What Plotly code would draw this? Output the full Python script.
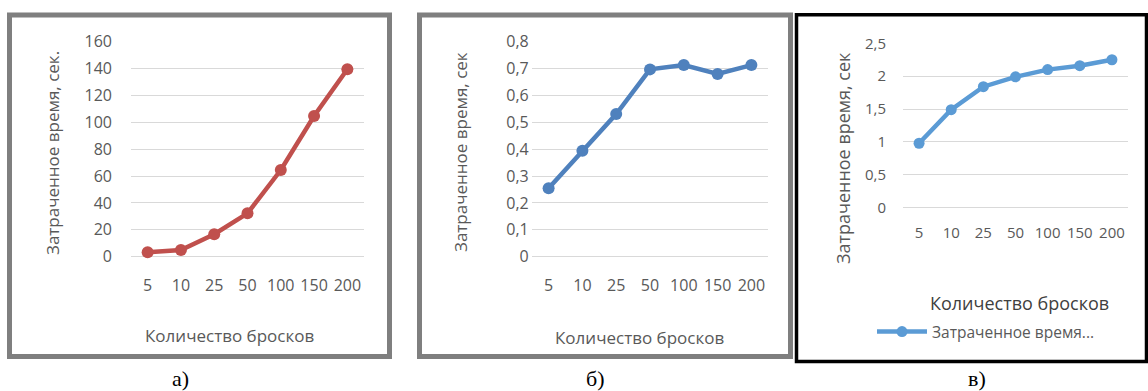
import plotly.graph_objects as go

# Throw counts (categorical x axis shared by all three charts)
throws = ["5", "10", "25", "50", "100", "150", "200"]

# Elapsed time, seconds
time_a = [3.3, 5.0, 16.7, 32.3, 64.5, 104.7, 139.5]
time_b = [0.255, 0.394, 0.531, 0.697, 0.713, 0.680, 0.713]
time_c = [0.98, 1.49, 1.84, 1.99, 2.10, 2.16, 2.25]

# Y tick values and labels (decimal comma)
ticks_a = [0, 20, 40, 60, 80, 100, 120, 140, 160]
labels_a = ["0", "20", "40", "60", "80", "100", "120", "140", "160"]
ticks_b = [0, 0.1, 0.2, 0.3, 0.4, 0.5, 0.6, 0.7, 0.8]
labels_b = ["0", "0,1", "0,2", "0,3", "0,4", "0,5", "0,6", "0,7", "0,8"]
ticks_c = [0, 0.5, 1, 1.5, 2, 2.5]
labels_c = ["0", "0,5", "1", "1,5", "2", "2,5"]

x_title = "Количество бросков"
y_title_a = "Затраченное время, сек."
y_title_bc = "Затраченное время, сек"
legend_name = "Затраченное время..."
captions = ["а)", "б)", "в)"]

W, H = 1148, 391
FONT = "Open Sans"
GRAY_TEXT = "#595959"
GRID = "#D9D9D9"


def fx(px):
    return px / W


def fy(py):
    return 1 - py / H


fig = go.Figure()

fig.add_trace(go.Scatter(
    x=throws, y=time_a, mode="lines+markers", xaxis="x", yaxis="y",
    line=dict(color="#C0504D", width=4.5), marker=dict(size=12, color="#C0504D"),
    cliponaxis=False, showlegend=False))
fig.add_trace(go.Scatter(
    x=throws, y=time_b, mode="lines+markers", xaxis="x2", yaxis="y2",
    line=dict(color="#4F81BD", width=4.5), marker=dict(size=12, color="#4F81BD"),
    cliponaxis=False, showlegend=False))
fig.add_trace(go.Scatter(
    x=throws, y=time_c, mode="lines+markers", xaxis="x3", yaxis="y3",
    line=dict(color="#5B9BD5", width=4.5), marker=dict(size=11, color="#5B9BD5"),
    cliponaxis=False, showlegend=True, name=legend_name))


def xaxis(anchor, l, r, size, standoff):
    return dict(domain=[fx(l), fx(r)], anchor=anchor, type="category",
                range=[-0.5, 6.5],
                showgrid=False, zeroline=False, showline=False, ticks="",
                ticklabelstandoff=standoff, automargin=False,
                tickfont=dict(family=FONT, size=size, color=GRAY_TEXT),
                fixedrange=True)


def yaxis(anchor, top, bottom, rng, vals, text, size, standoff):
    return dict(domain=[fy(bottom), fy(top)], anchor=anchor, range=rng,
                tickvals=vals, ticktext=text, showgrid=True, gridcolor=GRID,
                gridwidth=1.3, zeroline=True, zerolinecolor=GRID, zerolinewidth=1.3,
                showline=False, ticks="", ticklabelstandoff=standoff,
                automargin=False,
                tickfont=dict(family=FONT, size=size, color=GRAY_TEXT),
                fixedrange=True)


fig.update_layout(
    template="none",
    width=W, height=H, margin=dict(l=0, r=0, t=0, b=0, pad=0),
    paper_bgcolor="white", plot_bgcolor="white",
    xaxis=xaxis("y", 131, 364, 16, 17),
    yaxis=yaxis("x", 41.7, 256.7, [0, 160], ticks_a, labels_a, 16, 18),
    xaxis2=xaxis("y2", 531.7, 768.3, 16, 17),
    yaxis2=yaxis("x2", 41.7, 256.7, [0, 0.8], ticks_b, labels_b, 16, 2),
    xaxis3=xaxis("y3", 903, 1128, 15, 14),
    yaxis3=yaxis("x3", 43.3, 207.7, [0, 2.5], ticks_c, labels_c, 15, 16),
    legend=dict(x=fx(872), y=fy(332), xanchor="left", yanchor="middle",
                bgcolor="rgba(0,0,0,0)", itemwidth=50,
                font=dict(family=FONT, size=15.5, color=GRAY_TEXT)),
)

annotations = []
# Axis titles
for cx, cy, text, size, color in [
    (229, 335, x_title, 17, GRAY_TEXT),
    (639, 337, x_title, 17, GRAY_TEXT),
    (1019, 303, x_title, 18, "#404040"),
]:
    annotations.append(dict(x=fx(cx), y=fy(cy), xref="paper", yref="paper",
                            text=text, showarrow=False, xanchor="center",
                            yanchor="middle",
                            font=dict(family=FONT, size=size, color=color)))
for cx, cy, text, size in [
    (53, 153, y_title_a, 17),
    (460, 152, y_title_bc, 17),
    (843, 158, y_title_bc, 18),
]:
    annotations.append(dict(x=fx(cx), y=fy(cy), xref="paper", yref="paper",
                            text=text, showarrow=False, textangle=-90,
                            xanchor="center", yanchor="middle",
                            font=dict(family=FONT, size=size, color=GRAY_TEXT)))
# Panel captions
for cx, text in zip([180, 595, 977], captions):
    annotations.append(dict(x=fx(cx), y=fy(378), xref="paper", yref="paper",
                            text=text, showarrow=False, xanchor="center",
                            yanchor="middle",
                            font=dict(family="Liberation Serif", size=22,
                                      color="black")))
fig.update_layout(annotations=annotations)

# Chart frames
shapes = []
for x0, y0, x1, y1, color, width in [
    (9.5, 15, 389.5, 356.5, "#7F7F7F", 5),
    (419.5, 15, 790.5, 356.5, "#7F7F7F", 5),
    (796.5, 14.8, 1146.5, 361.5, "#000000", 3.5),
]:
    shapes.append(dict(type="rect", xref="paper", yref="paper",
                       x0=fx(x0), x1=fx(x1), y0=fy(y0), y1=fy(y1),
                       line=dict(color=color, width=width), layer="above"))
fig.update_layout(shapes=shapes)

fig.write_html("out.html")
